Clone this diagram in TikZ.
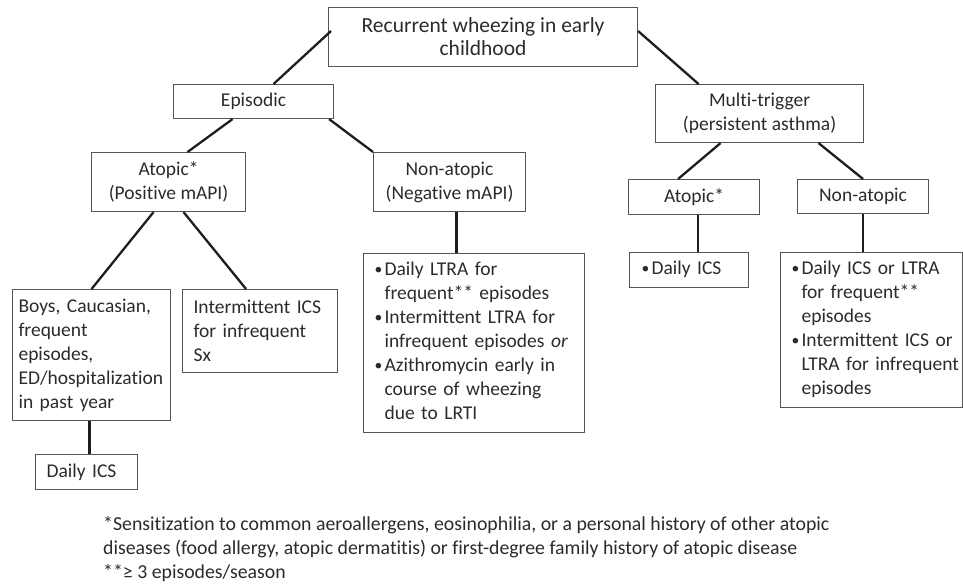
\documentclass[tikz,border=0pt]{standalone}
\usepackage{fontspec}
\setmainfont{Carlito}[Ligatures={NoCommon,NoContextual},RawFeature={-liga;-clig;-calt;-dlig}]
\usetikzlibrary{calc}
\definecolor{txt}{HTML}{2B2B2B}
\definecolor{frame}{HTML}{555555}
\definecolor{link}{HTML}{1E1E1E}
\newcommand\bulitem{\makebox[10pt][l]{\raisebox{1pt}{\scalebox{0.8}{\textbullet}}}}
\begin{document}
\begin{tikzpicture}[x=1pt,y=-1pt,
  every node/.style={text=txt,font=\fontsize{19.5}{24}\selectfont},
  box/.style={draw=frame,line width=1.1pt,inner sep=0pt,anchor=north west},
  conn/.style={draw=link,line width=2.3pt}]
\useasboundingbox (0,0) rectangle (963,585);
% boxes: given by top-left corner, width, height
\node[box,minimum width=309,minimum height=59,align=center,font=\fontsize{21.5}{23}\selectfont] (root) at (328,7) {Recurrent wheezing in early\\childhood};
\node[box,minimum width=160,minimum height=34,align=center] (epi) at (173,84) {Episodic};
\node[box,minimum width=208,minimum height=58,align=center] (multi) at (655,84) {Multi-trigger\\(persistent asthma)};
\node[box,minimum width=154,minimum height=59,align=center] (atopL) at (91,152) {Atopic*\\(Positive mAPI)};
\node[box,minimum width=152,minimum height=59,align=center] (nonL) at (373,152) {Non-atopic\\(Negative mAPI)};
\node[box,minimum width=131,minimum height=35,align=center] (atopR) at (628,179) {Atopic*};
\node[box,minimum width=131,minimum height=34,align=center] (nonR) at (797,179) {Non-atopic};
\node[box,minimum height=131,inner xsep=6pt,text width=146pt,align=left] (boys) at (12,289) {Boys, Caucasian,\\frequent\\episodes,\\ED/hospitalization\\in past year};
\node[box,minimum height=83,inner xsep=11pt,text width=133pt,align=left] (inter) at (182,289) {Intermittent ICS\\for infrequent\\Sx};
\node[box,minimum height=179,inner xsep=11pt,text width=199pt] (ltra) at (363,253) {%
  \begin{tabular}{@{}l@{}l@{}}
  \bulitem & Daily LTRA for\\
  & frequent** episodes\\
  \bulitem & Intermittent LTRA for\\
  & infrequent episodes \emph{or}\\
  \bulitem & Azithromycin early in\\
  & course of wheezing\\
  & due to LRTI
  \end{tabular}};
\node[box,minimum height=35,inner xsep=12pt,text width=95pt] (dicsR) at (629,252) {%
  \begin{tabular}{@{}l@{}l@{}}
  \bulitem & Daily ICS
  \end{tabular}};
\node[box,minimum height=155,inner xsep=11pt,text width=160pt] (ltraR) at (780,252) {%
  \begin{tabular}{@{}l@{}l@{}}
  \bulitem & Daily ICS or LTRA\\
  & for frequent**\\
  & episodes\\
  \bulitem & Intermittent ICS or\\
  & LTRA for infrequent\\
  & episodes
  \end{tabular}};
\node[box,minimum width=102,minimum height=35,inner xsep=11pt,align=left,text width=80pt] (dicsL) at (35,454) {Daily ICS};
% connectors
\draw[conn] ([xshift=3pt,yshift=6pt]root.west) -- ([xshift=20pt]epi.north);
\draw[conn] ([yshift=6pt]root.east) -- ([xshift=-61pt]multi.north);
\draw[conn] ([xshift=-21pt]epi.south) -- ([xshift=19pt]atopL.north);
\draw[conn] ([xshift=-5pt]epi.south east) -- (nonL.north west);
\draw[conn] ([xshift=-15pt]atopL.south) -- (boys.north);
\draw[conn] ([xshift=15pt]atopL.south) -- ([xshift=-14pt]inter.north);
\draw[conn] ([xshift=7pt]nonL.south) -- ([xshift=7pt]nonL.south |- ltra.north);
\draw[conn] ([xshift=-39pt]multi.south) -- ([xshift=-16pt]atopR.north);
\draw[conn] ([xshift=59pt]multi.south) -- (nonR.north);
\draw[conn] ([xshift=4pt]atopR.south) -- ([xshift=4pt]atopR.south |- dicsR.north);
\draw[conn] (nonR.south) -- (nonR.south |- ltraR.north);
\draw[conn] ([xshift=-2pt]boys.south) -- ([xshift=-2pt]boys.south |- dicsL.north);
% footnote
\node[anchor=north west,align=left,inner sep=0pt,font=\fontsize{19.8}{24}\selectfont] (foot) at (103,516) {*Sensitization to common aeroallergens, eosinophilia, or a personal history of other atopic\\diseases (food allergy, atopic dermatitis) or first-degree family history of atopic disease\\**≥ 3 episodes/season};
\end{tikzpicture}
\end{document}
